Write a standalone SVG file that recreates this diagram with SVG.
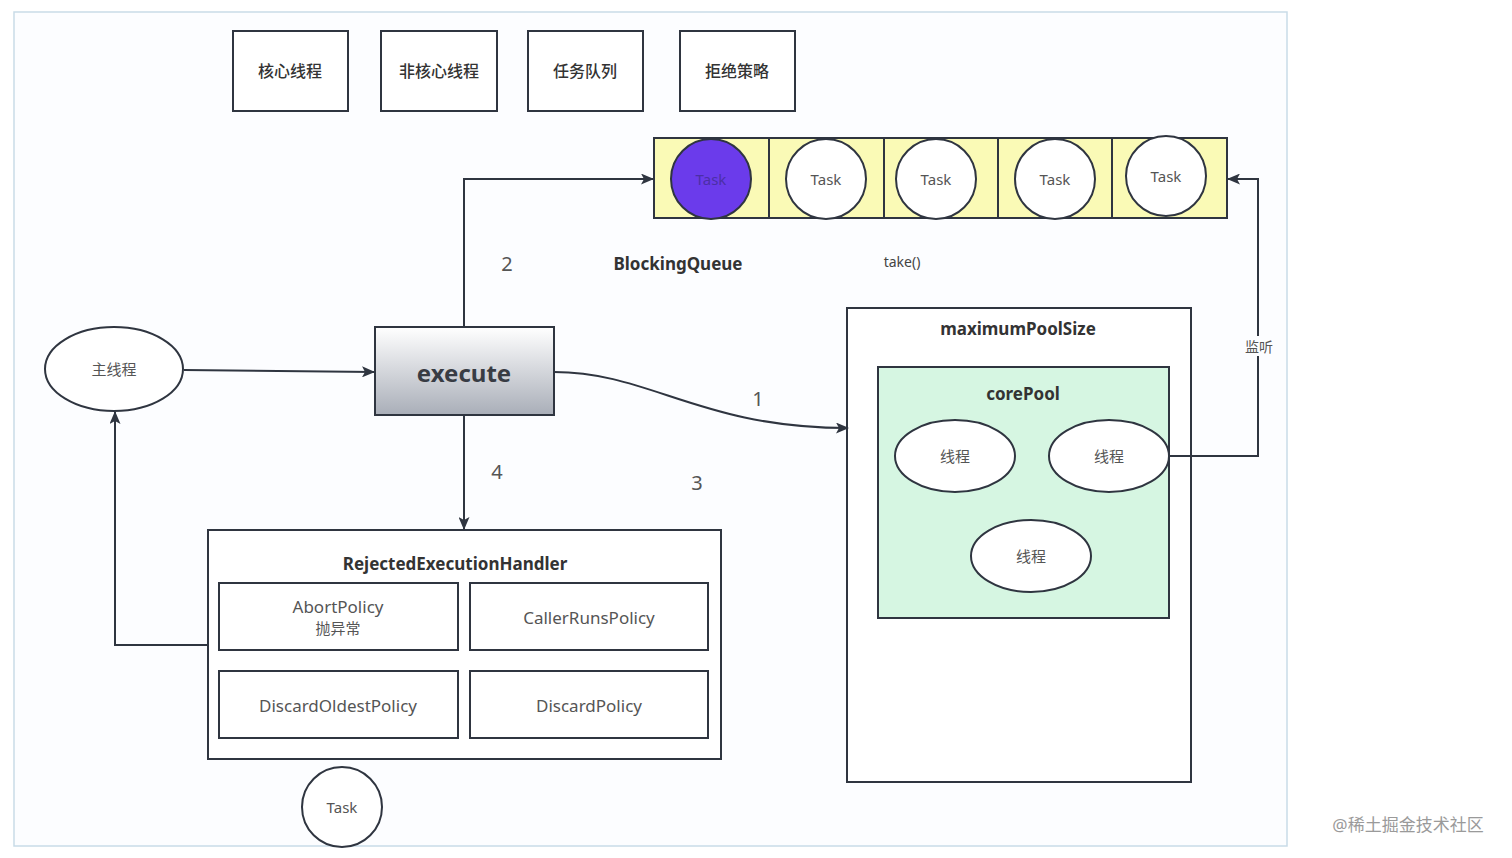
<svg xmlns="http://www.w3.org/2000/svg" width="1512" height="858" viewBox="0 0 1512 858">
<defs>
<linearGradient id="gExec" x1="0" y1="0" x2="0" y2="1">
<stop offset="0" stop-color="#ffffff"/>
<stop offset="1" stop-color="#a9aeb8"/>
</linearGradient>
<marker id="arr" markerWidth="13" markerHeight="11" refX="12" refY="5.5" orient="auto" markerUnits="userSpaceOnUse" viewBox="0 0 13 11">
<path d="M0,0 L13,5.5 L0,11 L3,5.5 Z" fill="#2f3540"/>
</marker>
</defs>
<style>
text{font-family:"Noto Sans","Noto Sans CJK SC",sans-serif;text-anchor:middle;dominant-baseline:central}
.box{fill:#ffffff;stroke:#2f3540;stroke-width:2}
.lbl{font-size:16px;fill:#333;font-weight:500}
.t{font-size:15px;fill:#555}
.pol{font-size:17px;fill:#555}
.title{font-size:17px;fill:#333;font-weight:bold}
.num{font-size:20px;fill:#555}
.edge{fill:none;stroke:#2f3540;stroke-width:2;marker-end:url(#arr)}
</style>
<rect x="0" y="0" width="1512" height="858" fill="#ffffff"/>
<rect x="14" y="12" width="1273" height="834" fill="#fcfdff" stroke="#c9dbe8" stroke-width="1.5"/>

<g id="legend-core"><rect class="box" x="233" y="31" width="115" height="80"/><text class="lbl" x="290" y="71">核心线程</text></g>
<g id="legend-noncore"><rect class="box" x="381" y="31" width="116" height="80"/><text class="lbl" x="439" y="71">非核心线程</text></g>
<g id="legend-queue"><rect class="box" x="528" y="31" width="115" height="80"/><text class="lbl" x="585" y="71">任务队列</text></g>
<g id="legend-reject"><rect class="box" x="680" y="31" width="115" height="80"/><text class="lbl" x="737" y="71">拒绝策略</text></g>

<g id="queue">
<rect x="654" y="138" width="573" height="80" fill="#fafab6" stroke="#2f3540" stroke-width="2"/>
<line x1="769" y1="138" x2="769" y2="218" stroke="#2f3540" stroke-width="2"/>
<line x1="884" y1="138" x2="884" y2="218" stroke="#2f3540" stroke-width="2"/>
<line x1="998" y1="138" x2="998" y2="218" stroke="#2f3540" stroke-width="2"/>
<line x1="1112" y1="138" x2="1112" y2="218" stroke="#2f3540" stroke-width="2"/>
<circle cx="711" cy="179" r="40" fill="#6b3beb" stroke="#2f3540" stroke-width="2"/>
<text class="t" x="711" y="179" style="fill:#4b2fa6">Task</text>
<circle cx="826" cy="179" r="40" fill="#fff" stroke="#2f3540" stroke-width="2"/>
<text class="t" x="826" y="179">Task</text>
<circle cx="936" cy="179" r="40" fill="#fff" stroke="#2f3540" stroke-width="2"/>
<text class="t" x="936" y="179">Task</text>
<circle cx="1055" cy="179" r="40" fill="#fff" stroke="#2f3540" stroke-width="2"/>
<text class="t" x="1055" y="179">Task</text>
<circle cx="1166" cy="176" r="40" fill="#fff" stroke="#2f3540" stroke-width="2"/>
<text class="t" x="1166" y="176">Task</text>
</g>
<g id="queue-label"><text class="title" x="678" y="263">BlockingQueue</text></g>
<g id="take-label"><text x="902" y="261" style="font-size:14px;fill:#444">take()</text></g>

<g id="main-thread"><ellipse cx="114" cy="369" rx="69" ry="42" fill="#fff" stroke="#2f3540" stroke-width="2"/><text class="t" x="114" y="369">主线程</text></g>

<g id="execute"><rect x="375" y="327" width="179" height="88" fill="url(#gExec)" stroke="#2f3540" stroke-width="2"/><text x="464" y="372" style="font-size:24px;font-weight:bold;fill:#383c44">execute</text></g>

<g id="reject-handler">
<rect class="box" x="208" y="530" width="513" height="229"/>
<text class="title" x="455" y="563">RejectedExecutionHandler</text>
<rect class="box" x="219" y="583" width="239" height="67"/>
<text class="pol" x="338" y="606">AbortPolicy</text>
<text x="338" y="628" style="font-size:15px;fill:#555">抛异常</text>
<rect class="box" x="470" y="583" width="238" height="67"/>
<text class="pol" x="589" y="617">CallerRunsPolicy</text>
<rect class="box" x="219" y="671" width="239" height="67"/>
<text class="pol" x="338" y="705">DiscardOldestPolicy</text>
<rect class="box" x="470" y="671" width="238" height="67"/>
<text class="pol" x="589" y="705">DiscardPolicy</text>
</g>

<g id="task-bottom"><circle cx="342" cy="807" r="40" fill="#fff" stroke="#2f3540" stroke-width="2"/><text class="t" x="342" y="807">Task</text></g>

<g id="max-pool">
<rect class="box" x="847" y="308" width="344" height="474"/>
<text class="title" x="1018" y="328">maximumPoolSize</text>
</g>
<g id="core-pool">
<rect x="878" y="367" width="291" height="251" fill="#d6f6e2" stroke="#2f3540" stroke-width="2"/>
<text class="title" x="1023" y="393">corePool</text>
</g>
<g id="thread1"><ellipse cx="955" cy="456" rx="60" ry="36" fill="#fff" stroke="#2f3540" stroke-width="2"/><text class="t" x="955" y="456">线程</text></g>
<g id="thread2"><ellipse cx="1109" cy="456" rx="60" ry="36" fill="#fff" stroke="#2f3540" stroke-width="2"/><text class="t" x="1109" y="456">线程</text></g>
<g id="thread3"><ellipse cx="1031" cy="556" rx="60" ry="36" fill="#fff" stroke="#2f3540" stroke-width="2"/><text class="t" x="1031" y="556">线程</text></g>

<g id="connectors">
<path class="edge" d="M184,370 L374,372"/>
<path class="edge" d="M464,327 L464,179 L653,179"/>
<path class="edge" d="M554,372 C650,372 700,428 848,428"/>
<path class="edge" d="M464,415 L464,529"/>
<path class="edge" d="M208,645 L115,645 L115,412"/>
<path class="edge" d="M1169,456 L1258,456 L1258,179 L1228,179"/>
<rect x="1242" y="336" width="34" height="20" fill="#fcfdff"/>
<text x="1259" y="346" style="font-size:14px;fill:#555">监听</text>
<text class="num" x="507" y="263">2</text>
<text class="num" x="758" y="398">1</text>
<text class="num" x="697" y="482">3</text>
<text class="num" x="497" y="471">4</text>
</g>

<g id="watermark"><text x="1408" y="824" style="font-size:17px;fill:#9a9a9a">@稀土掘金技术社区</text></g>
</svg>
